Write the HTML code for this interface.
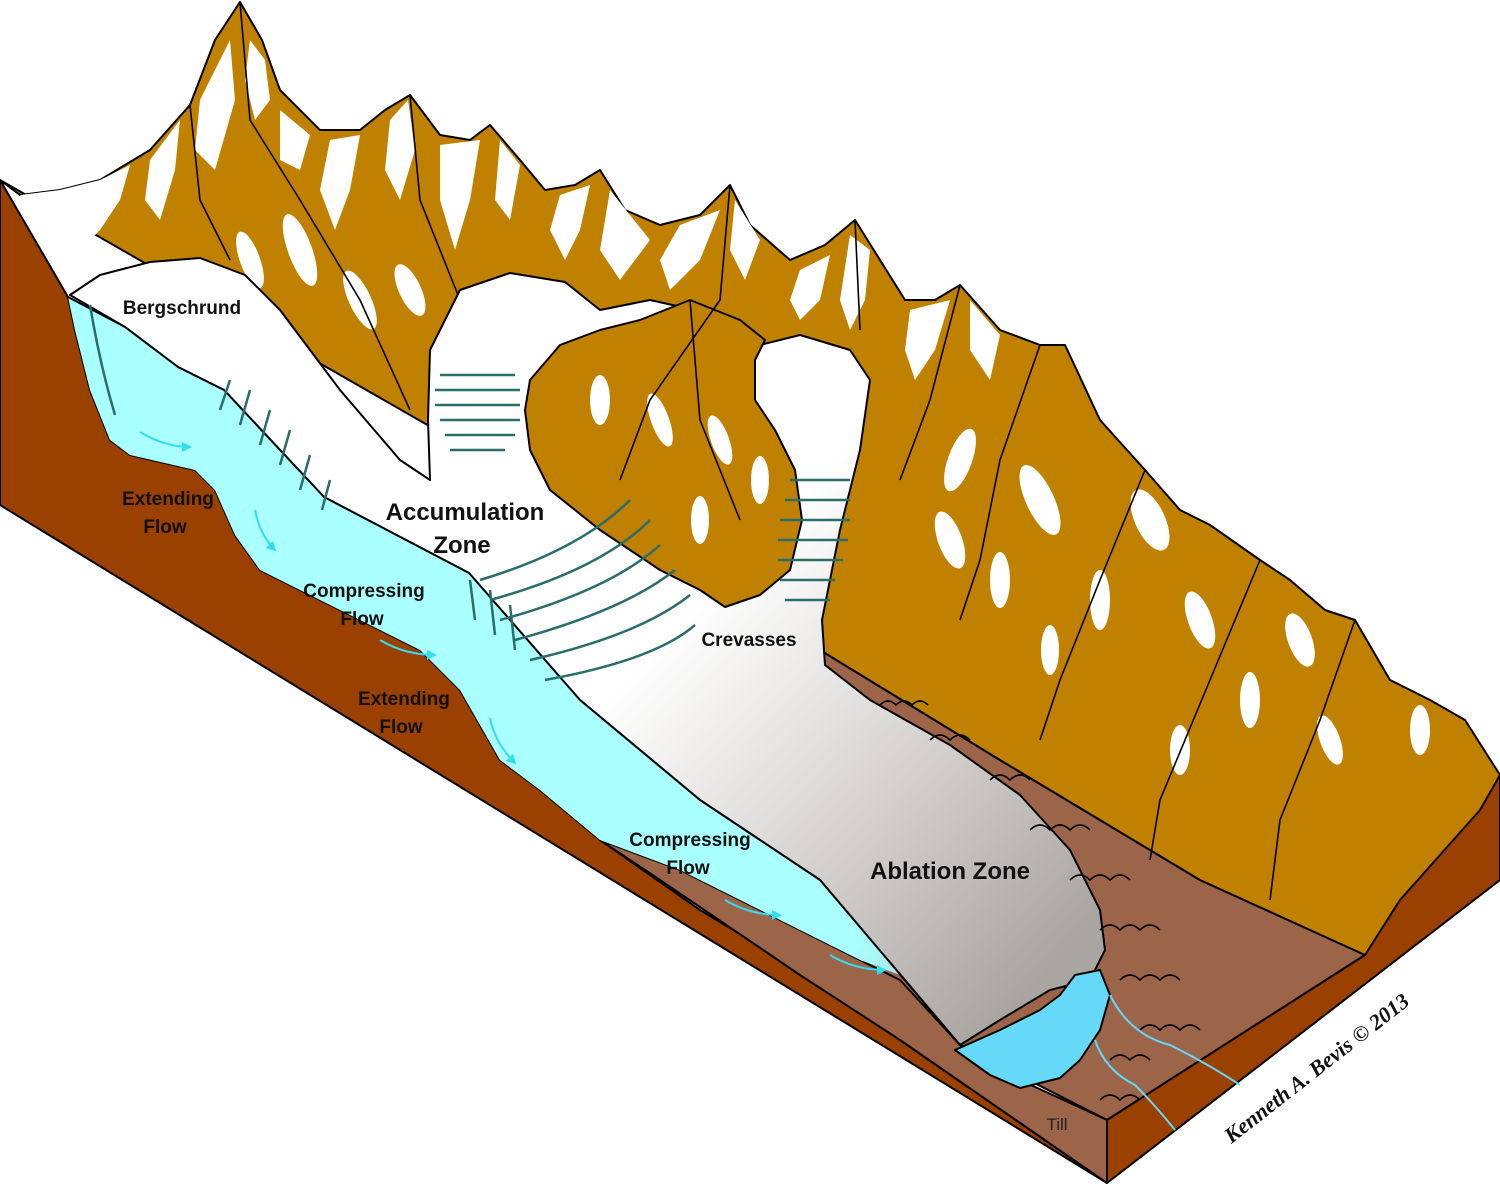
<!DOCTYPE html>
<html><head><meta charset="utf-8"><style>
html,body{margin:0;padding:0;background:#fff}
svg{display:block}
text{font-family:"Liberation Sans Narrow","Liberation Sans",sans-serif;font-weight:bold;fill:#111}
</style></head><body>
<svg width="1500" height="1186" viewBox="0 0 1500 1186" xmlns="http://www.w3.org/2000/svg">
<defs>
<linearGradient id="ice" gradientUnits="userSpaceOnUse" x1="640" y1="660" x2="1010" y2="1010">
<stop offset="0" stop-color="#ffffff"/><stop offset="0.35" stop-color="#e4e2e0"/><stop offset="1" stop-color="#a9a5a1"/></linearGradient>
<linearGradient id="cy" gradientUnits="userSpaceOnUse" x1="500" y1="700" x2="960" y2="1040">
<stop offset="0" stop-color="#aaffff"/><stop offset="0.75" stop-color="#aaffff"/><stop offset="1" stop-color="#b8c8c8"/></linearGradient>
<marker id="ah" viewBox="0 0 10 10" refX="8" refY="5" markerWidth="5" markerHeight="5" orient="auto"><path d="M0,0 L10,5 L0,10 Z" fill="#33ddee"/></marker>
</defs>
<g stroke="#000" stroke-width="2" stroke-linejoin="round">
<polygon fill="#9c6448" points="820,650 1000,760 1200,880 1365,955 1107,1120 960,1045 700,880"/>
<polygon id="mt" fill="#c08000" points="0,180 20,195 60,190 100,180 150,150 190,105 215,40 240,2 262,40 280,90 320,130 360,130 385,110 410,95 440,135 470,140 490,125 520,160 545,190 575,185 600,170 625,210 660,225 700,215 730,185 750,225 790,260 825,245 855,220 880,260 905,300 935,300 960,285 1000,330 1040,345 1065,345 1100,420 1145,470 1180,510 1210,525 1260,560 1290,580 1325,610 1355,620 1390,680 1430,700 1465,720 1500,775 1500,820 1365,955 1200,880 1000,760 820,650"/>
</g>
<!-- snow patches -->
<g fill="#fff">
<path d="M20,195 L60,190 100,180 130,165 120,200 100,230 80,250 60,225 40,215Z"/>
<path d="M150,160 L180,120 175,170 160,220 145,200Z"/>
<path d="M200,100 L230,40 235,100 215,170 195,150Z"/>
<path d="M250,40 L265,60 270,100 255,120 245,80Z"/>
<path d="M280,110 L310,135 300,170 280,160Z"/>
<path d="M330,140 L360,135 350,190 335,230 320,190Z"/>
<path d="M390,120 L408,100 415,150 400,200 385,170Z"/>
<path d="M440,145 L480,140 470,200 455,250 440,200Z"/>
<path d="M500,140 L520,165 510,220 495,200Z"/>
<path d="M560,195 L590,185 580,230 565,260 550,230Z"/>
<path d="M610,190 L630,215 650,240 620,280 600,250Z"/>
<path d="M680,225 L720,210 700,260 670,290 660,260Z"/>
<path d="M735,200 L760,240 745,280 730,250Z"/>
<path d="M800,270 L830,255 820,300 800,320 790,300Z"/>
<path d="M850,235 L870,250 865,300 850,330 840,300Z"/>
<path d="M910,310 L950,300 935,350 915,380 905,350Z"/>
<path d="M970,300 L1000,335 990,380 970,350Z"/>
<ellipse cx="300" cy="250" rx="12" ry="38" transform="rotate(-20 300 250)"/>
<ellipse cx="360" cy="300" rx="11" ry="32" transform="rotate(-25 360 300)"/>
<ellipse cx="410" cy="290" rx="11" ry="28" transform="rotate(-25 410 290)"/>
<ellipse cx="250" cy="260" rx="10" ry="30" transform="rotate(-20 250 260)"/>
<ellipse cx="660" cy="420" rx="10" ry="30" transform="rotate(-20 660 420)"/>
<ellipse cx="720" cy="440" rx="10" ry="28" transform="rotate(-20 720 440)"/>
<ellipse cx="760" cy="480" rx="9" ry="25"/>
<ellipse cx="700" cy="520" rx="9" ry="25"/>
<ellipse cx="600" cy="400" rx="10" ry="25"/>
<ellipse cx="960" cy="460" rx="12" ry="33" transform="rotate(20 960 460)"/>
<ellipse cx="1040" cy="500" rx="14" ry="38" transform="rotate(-25 1040 500)"/>
<ellipse cx="950" cy="540" rx="12" ry="30" transform="rotate(-20 950 540)"/>
<ellipse cx="1150" cy="520" rx="15" ry="33" transform="rotate(-25 1150 520)"/>
<ellipse cx="1100" cy="600" rx="10" ry="30"/>
<ellipse cx="1200" cy="620" rx="12" ry="30" transform="rotate(-20 1200 620)"/>
<ellipse cx="1300" cy="640" rx="12" ry="28" transform="rotate(-20 1300 640)"/>
<ellipse cx="1250" cy="700" rx="10" ry="28"/>
<ellipse cx="1330" cy="740" rx="10" ry="26" transform="rotate(-20 1330 740)"/>
<ellipse cx="1420" cy="730" rx="10" ry="25"/>
<ellipse cx="1180" cy="750" rx="10" ry="25"/>
<ellipse cx="1050" cy="650" rx="9" ry="25"/>
<ellipse cx="1000" cy="580" rx="10" ry="28"/>
</g>
<g stroke="#000" stroke-width="1.6" fill="none">
<path d="M240,2 L250,120 300,200 360,300 410,410"/><path d="M410,95 L420,200 460,300"/>
<path d="M730,185 L720,300 650,400 620,480"/><path d="M690,300 L700,420 740,520"/>
<path d="M1040,345 L1000,460 980,560 960,620"/><path d="M1145,470 L1100,580 1060,680 1040,740"/>
<path d="M1260,560 L1210,680 1160,800 1150,860"/><path d="M1355,620 L1320,720 1280,820 1270,900"/>
<path d="M960,285 L930,400 900,480"/>
<path d="M190,105 L200,200 230,260"/><path d="M855,220 L860,330"/>
</g>
<g stroke="#000" stroke-width="2" stroke-linejoin="round">
<polygon fill="#9a4000" points="1107,1120 1365,955 1400,900 1440,855 1480,810 1500,775 1500,880 1107,1183"/>
<polygon fill="#9a4000" points="0,180 68,297 75,330 90,390 110,440 130,455 195,470 215,490 235,535 260,570 300,590 360,620 420,650 460,690 500,760 540,790 600,840 700,910 800,970 900,1040 1107,1183 0,505"/>
<polygon fill="#9c6448" points="600,840 680,870 780,920 900,980 960,1045 1020,1080 1107,1120 1107,1183 900,1040 800,975 660,880"/>
<polygon fill="url(#ice)" points="70,295 100,275 150,262 200,258 245,275 280,310 340,390 400,460 430,480 428,420 430,350 460,290 510,273 565,282 600,310 650,300 740,320 760,345 800,335 850,350 870,380 860,450 840,530 822,620 825,665 870,700 950,745 1020,795 1070,850 1100,910 1105,950 1090,980 1050,990 1000,1020 960,1045 820,880 700,800 580,700 469,573 324,497 224,390 178,367 125,327"/>
<polygon fill="#c08000" points="530,380 560,345 600,330 640,320 690,300 740,320 765,340 755,360 755,400 775,430 795,470 802,520 790,570 760,595 725,607 700,590 660,570 600,530 550,490 530,450 525,410"/>
<polygon fill="url(#cy)" stroke="none" points="68,297 125,327 178,367 224,390 324,497 469,573 580,700 700,800 820,880 900,975 860,960 780,920 680,870 600,840 540,790 500,760 460,690 420,650 360,620 300,590 260,570 235,535 215,490 195,470 130,455 110,440 90,390 75,330"/>
<polyline fill="none" points="68,297 125,327 178,367 224,390 324,497 469,573 580,700 700,800 820,880 960,1045"/>
<polygon fill="#66d8f8" points="955,1050 1000,1030 1040,1010 1060,995 1075,975 1100,970 1110,995 1100,1030 1080,1060 1060,1078 1020,1088 990,1075"/>
</g>
<g fill="#fff">
<ellipse cx="600" cy="400" rx="10" ry="25"/><ellipse cx="660" cy="420" rx="9" ry="28" transform="rotate(-20 660 420)"/>
<ellipse cx="720" cy="440" rx="9" ry="26" transform="rotate(-20 720 440)"/><ellipse cx="760" cy="480" rx="9" ry="24"/><ellipse cx="700" cy="520" rx="9" ry="24"/>
</g>
<g stroke="#000" stroke-width="1.6" fill="none"><path d="M690,300 L700,420 740,520"/><path d="M720,300 L650,400 620,480"/></g>
<g stroke="#2a6e6a" stroke-width="2.5" fill="none">
<path d="M440,375 h75"/><path d="M435,390 h85"/><path d="M435,405 h85"/><path d="M440,420 h80"/><path d="M445,435 h70"/><path d="M450,450 h55"/>
<path d="M790,480 h60"/><path d="M785,500 h65"/><path d="M780,520 h70"/><path d="M778,540 h70"/><path d="M778,560 h65"/><path d="M780,580 h55"/><path d="M785,600 h45"/>
<path d="M480,580 q100,-30 150,-80"/><path d="M490,600 q110,-30 160,-80"/><path d="M500,620 q110,-30 160,-75"/><path d="M515,640 q110,-30 160,-70"/><path d="M530,660 q110,-25 160,-65"/><path d="M545,680 q110,-20 150,-55"/>
<path d="M230,380 l-10,30"/><path d="M250,390 l-10,35"/><path d="M270,410 l-10,35"/><path d="M290,430 l-10,35"/><path d="M310,455 l-10,35"/><path d="M330,480 l-8,30"/>
<path d="M90,305 q10,60 25,110"/><path d="M470,580 l5,40"/><path d="M490,590 l5,45"/><path d="M510,605 l5,45"/>
</g>
<g stroke="#000" stroke-width="1.6" fill="none">
<path d="M880,705 q8,-8 16,0 q8,-8 16,0 q8,-8 16,0"/><path d="M930,740 q10,-10 20,0 q10,-10 20,0"/>
<path d="M990,780 q10,-10 20,0 q10,-10 20,0"/><path d="M1030,830 q10,-10 20,0 q10,-10 20,0 q10,-10 20,0"/>
<path d="M1070,880 q10,-10 20,0 q10,-10 20,0 q10,-10 20,0"/><path d="M1100,930 q10,-10 20,0 q10,-10 20,0 q10,-10 20,0"/>
<path d="M1120,980 q10,-10 20,0 q10,-10 20,0 q10,-10 20,0"/><path d="M1110,1060 q10,-10 20,0 q10,-10 20,0"/>
<path d="M1100,1100 q10,-10 20,0 q10,-10 20,0"/><path d="M1140,1030 q10,-10 20,0 q10,-10 20,0 q10,-10 20,0"/>
</g>
<g stroke="#66d8f8" stroke-width="2" fill="none">
<path d="M1110,995 q20,40 60,50 q40,20 70,40"/><path d="M1095,1040 q10,30 40,45 q20,20 40,45"/>
</g>
<g stroke="#33ddee" stroke-width="2" fill="none" marker-end="url(#ah)">
<path d="M140,432 q25,15 50,15"/><path d="M255,510 q5,25 20,40"/><path d="M380,640 q25,15 55,15"/><path d="M490,718 q5,25 25,45"/><path d="M725,900 q25,15 55,15"/><path d="M830,955 q25,15 55,15"/>
</g>
<text x="182" y="314" font-size="19" text-anchor="middle">Bergschrund</text>
<text x="465" y="520" font-size="24" text-anchor="middle">Accumulation</text>
<text x="462" y="553" font-size="24" text-anchor="middle">Zone</text>
<text x="168" y="505" font-size="19" text-anchor="middle">Extending</text>
<text x="165" y="533" font-size="19" text-anchor="middle">Flow</text>
<text x="364" y="597" font-size="19" text-anchor="middle">Compressing</text>
<text x="362" y="625" font-size="19" text-anchor="middle">Flow</text>
<text x="404" y="705" font-size="19" text-anchor="middle">Extending</text>
<text x="401" y="733" font-size="19" text-anchor="middle">Flow</text>
<text x="690" y="846" font-size="19" text-anchor="middle">Compressing</text>
<text x="688" y="874" font-size="19" text-anchor="middle">Flow</text>
<text x="749" y="646" font-size="19" text-anchor="middle">Crevasses</text>
<text x="950" y="879" font-size="24" text-anchor="middle">Ablation Zone</text>
<text x="1057" y="1130" font-size="17" text-anchor="middle" style="font-weight:normal;fill:#222">Till</text>
<text x="1318" y="1075" font-size="22" text-anchor="middle" transform="rotate(-38 1318 1070)" style="font-family:'Liberation Serif',serif;font-style:italic">Kenneth A. Bevis © 2013</text>
</svg>
</body></html>
